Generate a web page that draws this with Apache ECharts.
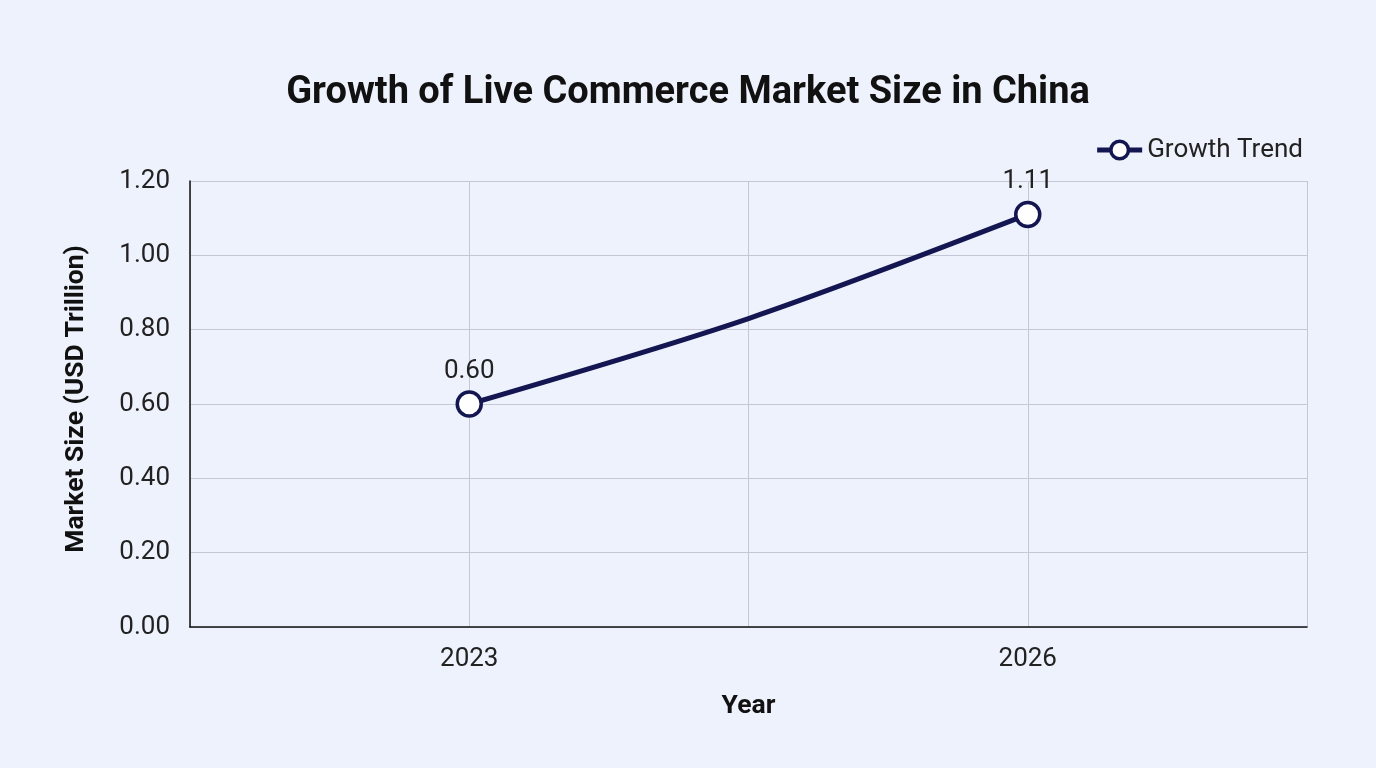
<!DOCTYPE html>
<html>
<head>
<meta charset="utf-8">
<script src="https://cdn.jsdelivr.net/npm/echarts@6/dist/echarts.min.js"></script>
<style>
  html, body { margin: 0; padding: 0; background: #eef2fc; }
  #chart { width: 1376px; height: 768px; }
</style>
</head>
<body>
<div id="chart"></div>
<script>
// data
var years = ['', '2023', '', '2026', ''];
var marketSize = [null, 0.60, 0.83, 1.11, null];
var labelled = [false, true, false, true, false];
var yTicks = { min: 0, max: 1.2, interval: 0.2 };

var navy = '#141652';
var chart = echarts.init(document.getElementById('chart'));

var points = marketSize.map(function (v, i) {
    return {
        value: v,
        symbol: labelled[i] ? 'circle' : 'none',
        label: { show: labelled[i] }
    };
});

var option = {
    backgroundColor: '#eef2fc',
    textStyle: { fontFamily: 'Roboto' },
    title: {
        text: 'Growth of Live Commerce Market Size in China',
        left: 'center',
        top: 69,
        textStyle: { fontSize: 38, fontWeight: 'bold', color: '#111', fontFamily: 'Roboto' }
    },
    legend: {
        right: 68,
        top: 132,
        itemWidth: 45,
        itemHeight: 22,
        itemGap: 10,
        textStyle: { fontSize: 26, color: '#222' },
        lineStyle: { width: 5 },
        itemStyle: { borderWidth: 3.5 },
        data: ['Growth Trend']
    },
    grid: { left: 190, right: 69, top: 181, bottom: 141 },
    xAxis: {
        type: 'category',
        data: years,
        boundaryGap: false,
        name: 'Year',
        nameLocation: 'middle',
        nameGap: 66,
        nameTextStyle: { fontSize: 26.5, fontWeight: 'bold', color: '#111' },
        axisLine: { lineStyle: { color: '#111', width: 1.5 } },
        axisTick: { show: false },
        axisLabel: { interval: 0, fontSize: 26, color: '#222', margin: 19 },
        splitLine: { show: true, lineStyle: { color: '#c5c8d4', width: 1 } }
    },
    yAxis: {
        type: 'value',
        min: yTicks.min,
        max: yTicks.max,
        interval: yTicks.interval,
        name: 'Market Size (USD Trillion)',
        nameLocation: 'middle',
        nameGap: 100,
        nameTextStyle: { fontSize: 26.5, fontWeight: 'bold', color: '#111', padding: [0, 0, 0, 10] },
        axisLine: { show: true, lineStyle: { color: '#111', width: 1.5 } },
        axisTick: { show: false },
        axisLabel: { fontSize: 26, color: '#222', margin: 20, formatter: function (v) { return v.toFixed(2); } },
        splitLine: { lineStyle: { color: '#c5c8d4', width: 1 } }
    },
    series: [{
        name: 'Growth Trend',
        type: 'line',
        data: points,
        smooth: 0.3,
        connectNulls: false,
        symbol: 'circle',
        symbolSize: 24,
        lineStyle: { color: navy, width: 5 },
        itemStyle: { color: '#fff', borderColor: navy, borderWidth: 3.5 },
        label: {
            position: 'top',
            distance: 6,
            fontSize: 26,
            color: '#222',
            formatter: function (p) { return p.value.toFixed(2); }
        }
    }]
};

chart.setOption(option);
</script>
</body>
</html>
